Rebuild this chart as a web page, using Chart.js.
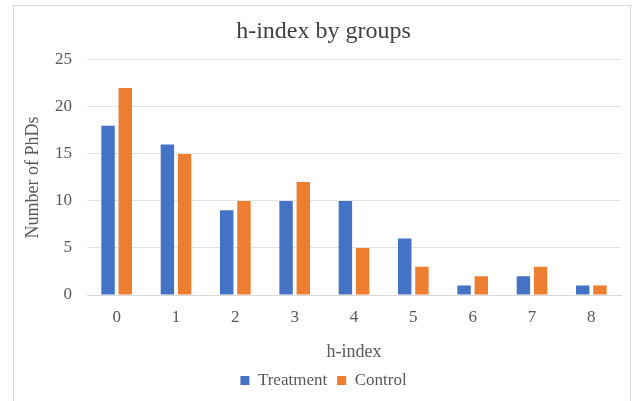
<!DOCTYPE html>
<html>
<head>
<meta charset="UTF-8" />
<title>h-index by groups</title>
<script src="https://cdn.jsdelivr.net/npm/chart.js"></script>
<style>
html, body { margin:0; padding:0; background:#fff; }
#wrap { width:636px; height:401px; position:relative; }
</style>
</head>
<body>
<div id="wrap"><canvas id="chart" width="636" height="401"></canvas></div>
<script>
const categories = ['0', '1', '2', '3', '4', '5', '6', '7', '8'];
const treatment = [18, 16, 9, 10, 10, 6, 1, 2, 1];
const control = [22, 15, 10, 12, 5, 3, 2, 3, 1];
const yTicks = [0, 5, 10, 15, 20, 25];

const serif = "'Liberation Serif', 'DejaVu Serif', serif";
const grey = '#595959';

// light frame around the chart, like the office export
const frame = {
  id: 'frame',
  beforeDraw(chart) {
    const c = chart.ctx;
    c.save();
    c.fillStyle = '#fff';
    c.fillRect(0, 0, chart.width, chart.height);
    c.strokeStyle = '#d9d9d9';
    c.lineWidth = 1;
    c.strokeRect(13.5, 5.5, 617, 410);
    c.restore();
  }
};

new Chart(document.getElementById('chart'), {
  type: 'bar',
  data: {
    labels: categories,
    datasets: [
      { label: 'Treatment', data: treatment, backgroundColor: '#4472C4',
        barPercentage: 0.78, categoryPercentage: 0.58 },
      { label: 'Control', data: control, backgroundColor: '#ED7D31',
        barPercentage: 0.78, categoryPercentage: 0.58 }
    ]
  },
  options: {
    responsive: false,
    animation: false,
    layout: { padding: { left: 26, right: 15, top: 0, bottom: 2 } },
    plugins: {
      title: {
        display: true,
        text: 'h-index by groups',
        color: '#404040',
        font: { family: serif, size: 24, weight: 'normal' },
        padding: { top: 17, bottom: 14 }
      },
      legend: {
        position: 'bottom',
        labels: {
          color: grey,
          font: { family: serif, size: 17 },
          boxWidth: 9,
          boxHeight: 9,
          padding: 10
        }
      },
      tooltip: { enabled: false }
    },
    scales: {
      x: {
        afterFit: s => { s.height = 67; },
        grid: { display: false, drawTicks: false },
        border: { display: true, color: '#d9d9d9' },
        ticks: { color: grey, font: { family: serif, size: 17 }, padding: 12 },
        title: {
          display: true, text: 'h-index', color: grey,
          font: { family: serif, size: 18 }, padding: { top: 10, bottom: -1 }
        }
      },
      y: {
        min: 0, max: 25,
        afterBuildTicks: s => { s.ticks = yTicks.map(v => ({ value: v })); },
        afterFit: s => { s.width = 61; },
        grid: { color: '#e3e3e3', drawTicks: false },
        border: { display: false },
        ticks: { color: grey, font: { family: serif, size: 17 }, padding: 15 },
        title: {
          display: true, text: 'Number of PhDs', color: grey,
          font: { family: serif, size: 18 }, padding: { top: -4, bottom: 0 }
        }
      }
    }
  },
  plugins: [frame]
});
</script>
</body>
</html>
